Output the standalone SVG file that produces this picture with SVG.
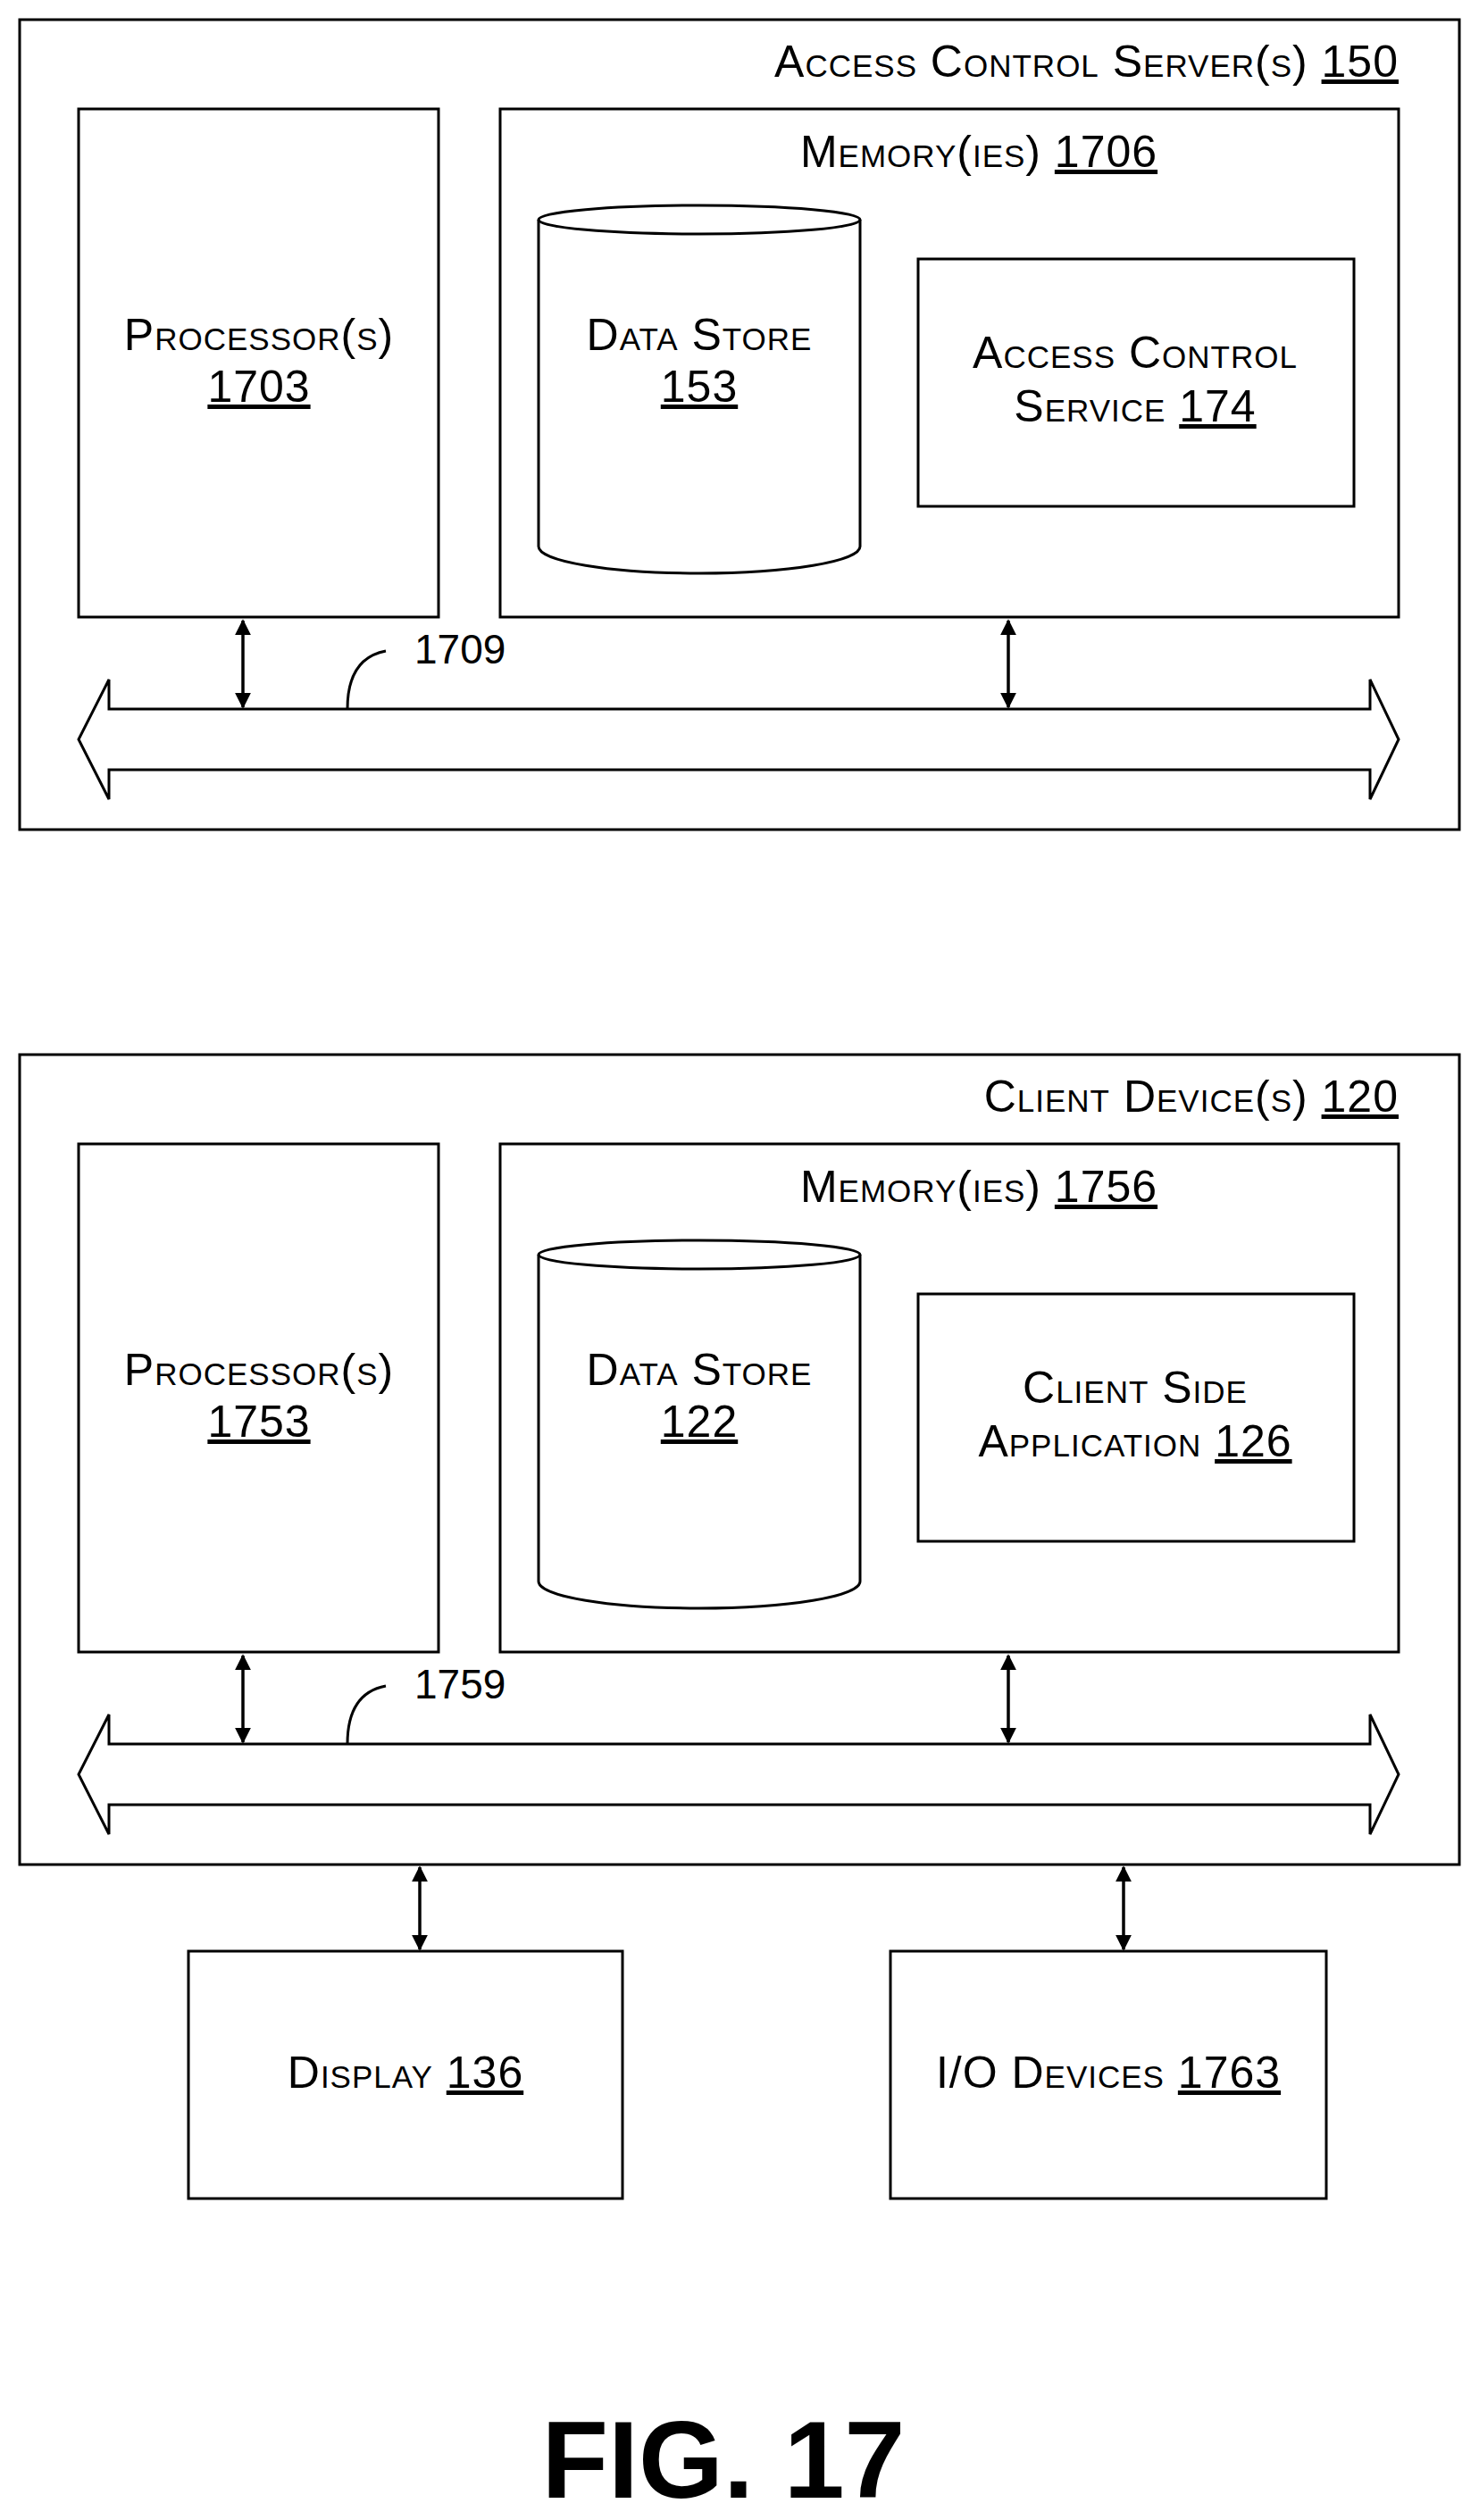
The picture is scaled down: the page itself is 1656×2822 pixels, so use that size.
<svg xmlns="http://www.w3.org/2000/svg" width="1656" height="2822" viewBox="0 0 1656 2822">
<style>
rect,path,ellipse,line{fill:none;stroke:#000;stroke-width:3}
line{stroke-width:3.5}
text{font-family:"Liberation Sans",Arial,sans-serif;font-size:50px;letter-spacing:1px;font-variant:small-caps;fill:#000;text-anchor:middle}
.u{text-decoration:underline}
.n{font-variant:normal;letter-spacing:0}
</style>
<defs>
<marker id="ah" viewBox="0 0 10 10" refX="9" refY="5" markerWidth="18" markerHeight="18" markerUnits="userSpaceOnUse" orient="auto-start-reverse"><path d="M0,0L10,5L0,10Z" style="fill:#000;stroke:none"/></marker>
<g id="sec">
<rect x="22" y="22" width="1612" height="907"/>
<rect x="88" y="122" width="403" height="569"/>
<rect x="560" y="122" width="1006" height="569"/>
<path d="M603,246 V612 A180,30 0 0 0 963,612 V246"/>
<ellipse cx="783" cy="246" rx="180" ry="16"/>
<rect x="1028" y="290" width="488" height="277"/>
<path d="M122,794 H1534 V761 L1566,828 L1534,895 V862 H122 V895 L88,828 L122,761 Z"/>
<path d="M389,794 C389,760 400,735 432,729"/>
</g>
</defs>
<g id="connectors">
<line x1="272" y1="695" x2="272" y2="792" marker-start="url(#ah)" marker-end="url(#ah)"/>
<line x1="1129" y1="695" x2="1129" y2="792" marker-start="url(#ah)" marker-end="url(#ah)"/>
<line x1="272" y1="1854" x2="272" y2="1951" marker-start="url(#ah)" marker-end="url(#ah)"/>
<line x1="1129" y1="1854" x2="1129" y2="1951" marker-start="url(#ah)" marker-end="url(#ah)"/>
<line x1="470" y1="2091" x2="470" y2="2183" marker-start="url(#ah)" marker-end="url(#ah)"/>
<line x1="1258" y1="2091" x2="1258" y2="2183" marker-start="url(#ah)" marker-end="url(#ah)"/>
</g>
<g id="server">
<use href="#sec"/>
<text x="1566" y="86" style="text-anchor:end">Access Control Server(s) <tspan class="u">150</tspan></text>
<text x="1096" y="187">Memory(ies) <tspan class="u">1706</tspan></text>
<text x="290" y="392">Processor(s)</text><text x="290" y="450" class="u">1703</text>
<text x="783" y="392">Data Store</text><text x="783" y="450" class="u">153</text>
<text x="1271" y="412">Access Control</text><text x="1271" y="472">Service <tspan class="u">174</tspan></text>
<text x="464" y="743" class="n" style="text-anchor:start;font-size:46px">1709</text>
</g>
<g id="client" transform="translate(0,1159)">
<use href="#sec"/>
<text x="1566" y="86" style="text-anchor:end">Client Device(s) <tspan class="u">120</tspan></text>
<text x="1096" y="187">Memory(ies) <tspan class="u">1756</tspan></text>
<text x="290" y="392">Processor(s)</text><text x="290" y="450" class="u">1753</text>
<text x="783" y="392">Data Store</text><text x="783" y="450" class="u">122</text>
<text x="1271" y="412">Client Side</text><text x="1271" y="472">Application <tspan class="u">126</tspan></text>
<text x="464" y="743" class="n" style="text-anchor:start;font-size:46px">1759</text>
</g>
<g id="display">
<rect x="211" y="2185" width="486" height="277"/>
<text x="454" y="2338">Display <tspan class="u">136</tspan></text>
</g>
<g id="io">
<rect x="997" y="2185" width="488" height="277"/>
<text x="1241" y="2338">I/O Devices <tspan class="u">1763</tspan></text>
</g>
<text x="810" y="2797" class="n" style="font-size:122px;font-weight:bold">FIG. 17</text>
</svg>
